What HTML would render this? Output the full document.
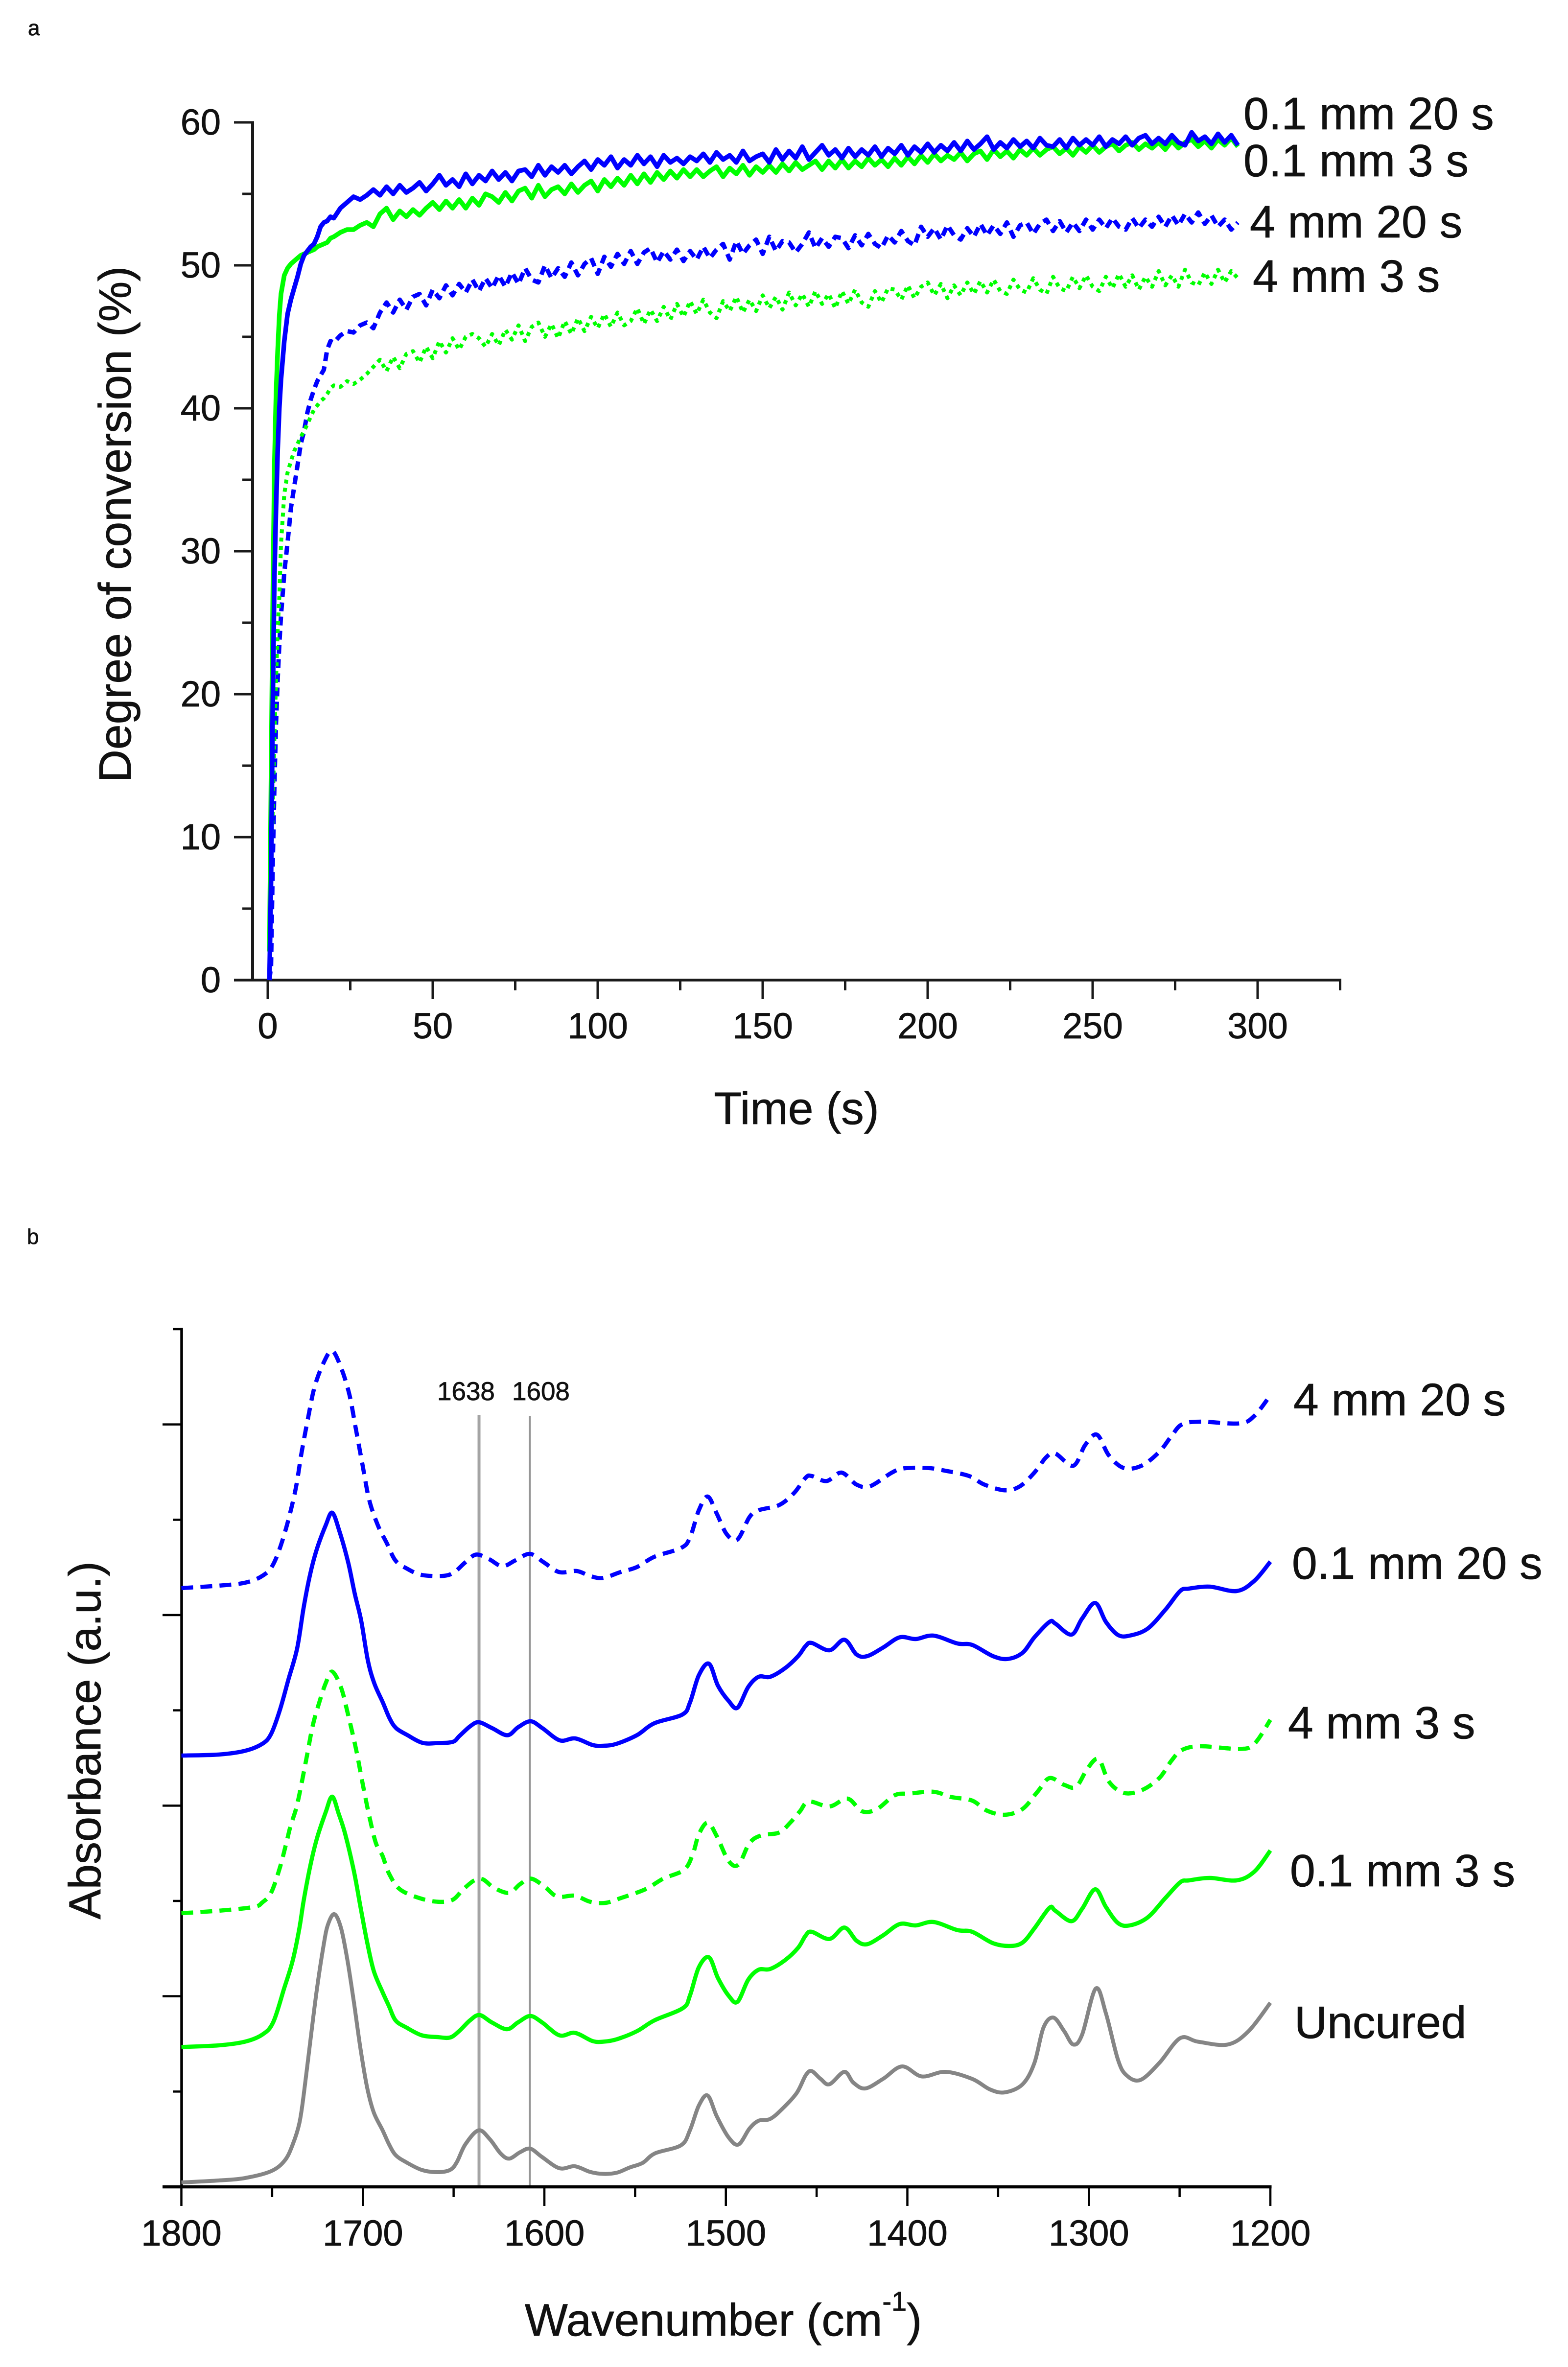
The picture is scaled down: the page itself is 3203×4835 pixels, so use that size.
<!DOCTYPE html>
<html lang="en">
<head>
<meta charset="utf-8">
<title>Degree of conversion and FTIR spectra</title>
<style>
html,body{margin:0;padding:0;background:#fff}
svg{display:block}
text{font-family:"Liberation Sans",Arial,sans-serif;fill:#111;stroke:#111;stroke-width:.8px}
</style>
</head>
<body>
<svg id="fig" xmlns="http://www.w3.org/2000/svg" width="3203" height="4835" viewBox="0 0 3203 4835">
<rect x="0" y="0" width="3203" height="4835" fill="#ffffff"/>

<text x="57" y="72" font-size="44">a</text>
<text x="55" y="2541" font-size="44">b</text>

<g id="chartA"></g>
<g id="chartB"></g>

<text font-size="93" text-anchor="middle" transform="translate(267 1071) rotate(-90)">Degree of conversion (%)</text>
<text x="1627" y="2296" font-size="93" text-anchor="middle">Time (s)</text>

<text x="2540" y="264" font-size="93">0.1 mm 20 s</text>
<text x="2540" y="360" font-size="93">0.1 mm 3 s</text>
<text x="2553" y="485" font-size="93">4 mm 20 s</text>
<text x="2559" y="596" font-size="93">4 mm 3 s</text>

<text font-size="92" text-anchor="middle" transform="translate(205 3555) rotate(-90)">Absorbance (a.u.)</text>
<text x="1072" y="4771" font-size="93">Wavenumber (cm<tspan font-size="56" dy="-51">-1</tspan><tspan dy="51">)</tspan></text>

<text x="893" y="2860" font-size="53">1638</text>
<text x="1046" y="2860" font-size="53">1608</text>

<text x="2642" y="2891" font-size="93">4 mm 20 s</text>
<text x="2639" y="3225" font-size="93">0.1 mm 20 s</text>
<text x="2631" y="3551" font-size="93">4 mm 3 s</text>
<text x="2635" y="3853" font-size="93">0.1 mm 3 s</text>
<text x="2644" y="4163" font-size="93">Uncured</text>
</svg>

<script>
/* ---------- Chart A data ---------- */
const timeValues = [0.5,1,1.5,2,2.5,3,3.5,4,5,6,7,8,9,10,11,12,13,14,15,16,17,18,19,20,22,24,26,28,
30,32,34,36,38,40,42,44,46,48,50,52,54,56,58,60,62,64,66,68,70,72,74,76,78,80,82,84,86,88,
90,92,94,96,98,100,102,104,106,108,110,112,114,116,118,120,122,124,126,128,130,132,134,136,138,140,142,144,146,148,
150,152,154,156,158,160,162,164,166,168,170,172,174,176,178,180,182,184,186,188,190,192,194,196,198,200,202,204,206,208,
210,212,214,216,218,220,222,224,226,228,230,232,234,236,238,240,242,244,246,248,250,252,254,256,258,260,262,264,266,268,
270,272,274,276,278,280,282,284,286,288,290,292,294];

const conv01mm20s = [0,7,19,28,33,37,40,42,44.7,46.6,47.6,48.4,49.2,50.1,50.7,51,51.3,51.5,52,52.7,53,53.1,53.4,53.3,54,54.4,54.8,54.6,
54.9,55.3,54.9,55.5,55.0,55.6,55.1,55.4,55.8,55.2,
55.7,56.3,55.6,56.0,55.5,56.4,55.7,56.3,55.9,56.6,
56.0,56.5,55.9,56.6,56.7,56.2,57.0,56.3,56.9,56.5,
57.0,56.4,56.9,57.3,56.7,57.4,57.0,57.6,56.8,57.4,
57.0,57.7,57.1,57.6,56.9,57.7,57.2,57.5,57.1,57.6,
57.3,57.8,57.2,57.9,57.4,57.7,57.2,58.0,57.3,57.6,
57.8,57.2,58.1,57.4,58.0,57.5,58.3,57.4,57.9,58.4,
57.7,58.1,57.5,58.2,57.6,58.1,57.7,58.3,57.6,58.2,
57.8,58.4,57.7,58.3,57.9,58.5,57.9,58.4,58.0,58.6,
58.0,58.7,58.1,58.5,59.0,58.1,58.6,58.2,58.8,58.3,
58.7,58.2,58.9,58.4,58.3,58.8,58.2,58.9,58.4,58.8,
58.4,59.0,58.3,58.8,58.5,59.0,58.4,58.9,59.1,58.5,
58.9,58.5,59.1,58.6,58.4,59.3,58.7,59.0,58.5,59.2,
58.6,59.1,58.4];

const conv01mm3s = [2,14,26,36,41,44,46.5,48,49.3,49.8,50.1,50.3,50.5,50.7,50.8,50.9,51,51.1,51.3,51.4,51.5,51.6,51.9,52,52.3,52.5,52.5,52.8,
53.0,52.7,53.6,54.0,53.2,53.8,53.4,53.9,53.5,54.0,
54.4,53.9,54.5,54.0,54.6,54.0,54.7,54.2,55.0,54.8,
54.4,55.1,54.5,55.2,55.4,54.7,55.6,54.8,55.3,55.5,
55.0,55.7,55.1,55.6,55.9,55.2,56.0,55.5,56.1,55.6,
56.3,55.7,56.4,55.8,56.5,56.0,56.6,56.1,56.7,56.2,
56.7,56.2,56.6,56.9,56.2,56.8,56.4,57.0,56.3,56.9,
56.5,57.0,56.5,57.1,56.6,57.2,56.7,57.0,57.3,56.7,
57.3,56.8,57.4,56.8,57.3,56.9,57.5,57.0,57.4,56.9,
57.5,57.0,57.6,57.1,57.7,57.2,57.8,57.3,57.7,57.4,
57.9,57.3,57.8,58.0,57.4,58.1,57.6,58.0,57.5,58.1,
57.7,58.2,57.7,58.1,58.3,57.8,58.2,57.7,58.3,57.9,
58.4,57.9,58.3,58.5,58.0,58.4,58.6,58.1,58.5,58.2,
58.6,58.1,58.7,58.2,58.6,58.8,58.3,58.7,58.2,58.8,
58.4,58.9,58.3];

const conv4mm20s = [0,1,8,13.5,18,21,23.5,25.5,28.5,30.6,33,34.5,36,37.5,38.4,39.7,40.6,41.3,41.9,42.3,42.7,44.1,44.7,44.6,45.1,45.4,45.3,45.8,
46.0,45.6,46.7,47.4,46.7,47.6,46.9,47.8,48.0,47.2,
48.3,47.7,48.6,47.9,48.7,48.1,49.0,48.2,49.1,48.4,
49.3,48.5,49.5,48.7,49.8,49.0,48.8,50.0,49.1,49.8,
49.2,50.2,49.3,50.1,50.5,49.4,50.6,49.9,50.8,50.1,
51.0,50.1,50.9,51.2,50.2,51.0,50.4,51.1,50.3,51.0,
50.4,51.3,50.5,51.1,51.5,50.4,51.7,50.8,51.4,51.8,
50.8,52.0,51.0,51.7,51.6,50.9,51.5,52.3,51.2,51.9,
51.3,52.0,51.9,51.2,52.1,51.4,52.2,51.5,51.2,52.1,
51.6,52.4,51.7,51.4,52.7,52.0,52.6,51.8,52.8,52.1,
51.8,52.6,52.0,52.9,52.1,52.8,52.2,53.0,52.0,52.8,
53.0,52.2,52.9,53.2,52.4,53.1,52.3,53.0,52.4,53.2,
52.5,53.2,52.6,53.3,52.7,52.5,53.3,52.6,53.2,52.7,
53.4,52.7,53.5,52.8,53.6,53.0,53.7,52.9,53.5,52.7,
53.2,52.5,53.0];

const conv4mm3s = [1,7,12,17,21,24.5,26.8,30.5,34,35.5,36.3,37,37.5,38,38.4,38.9,39.4,39.9,40.2,40.5,40.7,41,41.4,41.6,41.5,41.9,41.7,42,
42.4,42.9,43.4,42.6,43.6,42.8,43.8,44.0,43.2,44.3,
43.5,44.7,43.9,44.9,44.1,45.0,45.2,44.9,44.3,45.2,
44.4,45.5,44.8,45.8,44.7,45.7,46.0,45.0,45.9,44.9,
46.1,45.2,46.3,45.4,46.4,45.6,46.6,45.7,46.7,45.8,
46.1,47.0,45.9,46.9,46.1,47.1,46.2,47.3,46.4,47.5,
46.6,47.6,46.7,46.3,47.5,46.8,47.8,46.7,47.6,46.8,
47.9,47.0,47.8,46.9,48.1,47.2,48.0,47.1,48.2,47.3,
48.0,47.0,48.2,47.3,48.3,47.4,47.1,48.2,47.4,48.4,
48.3,47.6,48.6,47.7,48.5,48.8,47.9,48.7,47.7,48.6,
47.9,48.8,48.0,48.9,48.1,49.0,48.2,48.0,49.0,48.3,
48.1,49.1,48.3,48.0,49.2,48.4,48.2,49.2,48.4,49.3,
48.5,48.2,49.2,48.4,49.4,48.5,49.3,48.3,49.2,48.5,
49.6,48.6,49.3,48.5,49.7,48.8,48.6,49.5,48.7,49.7,
48.8,49.6,49.1];

const convYMajorTicks = [0,10,20,30,40,50,60];
const convYMinorTicks = [5,15,25,35,45,55];
const timeMajorTicks = [0,50,100,150,200,250,300];
const timeMinorTicks = [25,75,125,175,225,275,325];

/* ---------- Chart B data ---------- */
const wnUncured = [1800,1779.5,1765,1750.6,1743,1738.6,1735,1732.6,1729,1725.3,1721.7,1719.3,1715.7,1712,1708.5,1704.9,1701.3,1697.6,1694,1689.2,1685.6,1682,1676,1667.5,1659,1652,1648.3,1643.5,1636.2,1630,1624.2,1619.4,1613.4,1607.8,1601.3,1591.7,1583.2,1574.8,1567.6,1560,1553,1545.8,1539,1524.7,1519.8,1514.9,1510,1505,1498.5,1493,1487,1482,1475.6,1469,1461,1456,1452.7,1447.8,1442.9,1434.7,1429.8,1423.2,1413.4,1402.9,1392,1379,1364.3,1354.5,1346.3,1336.5,1330,1325,1319.5,1313.6,1308.6,1303.7,1296.2,1290.6,1284,1279.2,1271.6,1261.2,1249.7,1239.9,1223.5,1212,1200];
const absUncured = [9,13,18,32,54,87,130,188,296,405,492,535,557,528,463,376,282,202,152,116,87,65,50,34.5,30,34.5,50,87,115.5,97,68.5,57.6,70.7,78,61,38,42,30.5,26.5,29,39.5,49,68.5,85,115.5,166,186.5,144,101,86.6,119,135,138.7,159,191.5,228,236.4,220.5,209.6,235,213,201,220.5,246,225.5,235,220.5,199,193,209.6,253,325.5,345.7,318,290.7,311,405,354.4,260,227.7,218.3,253,303.7,296.5,290.7,318,376];

const wn01mm3s = [1800,1779.5,1765,1755.4,1749.4,1743.4,1738.6,1735,1732.6,1729,1725.3,1720.5,1716.9,1713.3,1709.7,1704.9,1701.3,1697.6,1694,1689.2,1685.6,1682,1676,1667.5,1659,1652,1647,1641,1635.7,1629,1620.6,1614.5,1607.8,1601.3,1591.7,1583.2,1573.6,1567.6,1560,1549,1539.4,1523.7,1519.8,1514.9,1509.3,1504.4,1498.5,1493.6,1487.7,1482,1475.6,1467.4,1460.2,1456,1452.7,1442.9,1434.7,1428,1422.2,1413.4,1404.2,1395.4,1385.6,1372.5,1364.3,1352.8,1343.7,1336.5,1330,1321.7,1318.5,1309.6,1303.7,1296.5,1290.6,1284,1277.5,1267.7,1257.9,1249.7,1244.8,1233.4,1218.6,1208.8,1200];
const abs01mm3s = [285.6,289,296.5,311,336.3,405,463,528,585,655,712,765,797,762,720,644,571.6,499,441,398,369,340,325.4,309.5,306,305,318,340,351,336,322,336,349,336,309.5,314.6,298,296.5,301.6,318,340,365,390.6,448.5,468.8,426.8,390.6,378,423,443.4,445,463,488.3,513.6,521,506.4,529.6,502.8,495.6,513.6,536.8,534,541,524.5,521,497.7,492,499,528,570,564,542.6,568,607.8,571.6,539,534,550,589.7,622,626,631,626,644,687];

const wn4mm3s = [1800,1779.5,1760.3,1755.4,1750.6,1745.8,1742.2,1739.8,1736.2,1731.4,1727.7,1724.1,1720.5,1716.9,1712.1,1708.5,1703.7,1700,1696.4,1692.8,1689.2,1685.6,1679.6,1668.7,1659,1650.7,1644.7,1638.6,1633.8,1627.8,1619.4,1613.3,1607.3,1600,1592.9,1583.2,1574.8,1566.4,1558,1544.4,1534.5,1523,1518.2,1514.9,1510,1505,1498.5,1493,1487,1480.5,1470.7,1464.2,1459.2,1454.3,1442.9,1433,1424.9,1416.7,1406.9,1398.7,1385.6,1375.8,1364.3,1356.1,1346.3,1336.5,1328.3,1321.7,1313.5,1307,1300.5,1294.6,1289,1280.8,1271,1261.2,1254.6,1248.7,1238.3,1217,1208.8,1200];
const abs4mm3s = [559,564,571.6,581,600.5,651,702,738,781,869,941,988.6,1028.5,1052.4,1020.5,970,893,821,756,702,676.5,640,607.8,589.7,582.4,586,607.8,626,628,611,600.5,618.6,629.5,613.5,593,594.7,582.4,580,589.7,607.8,629.5,647.6,680,720,744,716.3,665.7,658.4,702,718,723.6,745.3,767,787,777,793,767,771.8,800,803.3,807,796.3,789,768.3,760,772,807,835,821,817.3,856,873.5,828,804.7,810,835,870,892.4,900,894.5,905,954];

const wn01mm20s = [1800,1779.5,1765,1755.4,1750.6,1745.8,1741,1736.2,1732.6,1729,1725.3,1720.5,1716.9,1712.9,1708.1,1704.5,1700.9,1697.3,1693.7,1688.9,1685.3,1681.7,1675.7,1667.2,1658.8,1650.4,1646.8,1640.8,1636,1628.8,1620.4,1614.4,1607.6,1601.1,1591.5,1583,1573.4,1567.4,1560.2,1549,1539.4,1524,1519.8,1514.9,1509.3,1504.4,1498.5,1493.6,1487.7,1482,1475.6,1467.4,1460.2,1456,1452.7,1442.9,1434.7,1428,1422.2,1413.4,1404.2,1395.4,1385.6,1372.5,1364.3,1352.8,1344.7,1336.5,1330,1321.7,1318.5,1309.6,1303.7,1296.5,1290.6,1284,1277.5,1267.7,1257.9,1249.7,1244.8,1233.4,1218.6,1208.8,1200];
const abs01mm20s = [881,883,890.6,905,925,973,1036.5,1100,1184,1252,1303.5,1351,1377,1339,1275.6,1212,1156,1076,1028.5,988.6,957,937,923.3,907,906.5,909,921,941,949,937,922.5,939,951,937,912,916,902.5,901,905,922.6,947,964.7,989,1045,1068.5,1024,992.7,978.7,1021,1041.8,1041.8,1059.4,1084,1105,1111,1096,1117.6,1087.4,1084,1101.5,1122.5,1119,1126,1110,1107,1084,1078.3,1091,1122.5,1154,1150.6,1128,1161,1192.7,1154,1127.4,1126,1140,1178.6,1217,1222,1226,1217,1238,1277];

const wn4mm20s = [1800,1779.5,1765,1755.4,1749.4,1743.4,1737.4,1733.8,1730.2,1726.6,1721.8,1717,1712.1,1707.4,1703.8,1700.2,1696.5,1691.7,1686.9,1682.1,1676.1,1667.7,1655.6,1649.6,1643.6,1637.6,1630.4,1623.2,1616,1608,1600.3,1591.8,1582.2,1575,1567.8,1558.1,1549,1539.4,1524.7,1519.8,1514.9,1510,1505,1499.5,1493.6,1487,1482,1470.7,1462.5,1456,1452.7,1444.5,1436.3,1428.1,1420.6,1408.5,1402,1388.8,1379,1366,1357.7,1346.3,1338,1330,1323.4,1318.5,1308.6,1302,1295.5,1289,1280.8,1271,1261.2,1254.6,1248.7,1238.3,1217,1208.8,1200];
const abs4mm20s = [1223,1228,1234,1248,1271.6,1331.4,1419,1499,1570.6,1634,1682,1707.7,1674,1618,1546.7,1475,1403,1351,1315.5,1279.6,1263.6,1250,1248,1255.7,1275.6,1291.5,1282,1267.6,1279.6,1293,1275.6,1255.7,1258,1248,1243.7,1255.7,1266,1287,1305,1326,1382,1410,1375,1333,1322.4,1368,1382,1392.6,1417,1448.7,1452,1441.7,1459,1434.7,1431,1459,1467.6,1468.4,1462.7,1452,1434.7,1422.8,1431,1459,1490.8,1498,1473,1515.4,1536.4,1494.3,1468.4,1473,1501.3,1533,1557.4,1563,1559.5,1575,1617];

const referenceLines = [1636,1608];
const wnMajorTicks = [1800,1700,1600,1500,1400,1300,1200];
const wnMinorTicks = [1750,1650,1550,1450,1350,1250];
const absTickCount = 9;

/* ---------- helpers ---------- */
const NS = 'http://www.w3.org/2000/svg';
function linear(d0,d1,r0,r1){return v=>r0+(v-d0)*(r1-r0)/(d1-d0);}
const xTime = linear(0,325,547,2737.5);
const yConv = linear(0,60,2002,250);
const xWn = linear(1800,1200,370.5,2595);
const yAbs = linear(0,1752,4467,2715);
const chartA = document.getElementById('chartA');
const chartB = document.getElementById('chartB');

function line(parent,name,x1,y1,x2,y2,color,width){
  const el = document.createElementNS(NS,'line');
  
  
  el.setAttribute('x1',x1);el.setAttribute('y1',y1);el.setAttribute('x2',x2);el.setAttribute('y2',y2);
  el.setAttribute('stroke',color);el.setAttribute('stroke-width',width);
  parent.appendChild(el);
}
function label(parent,name,x,y,txt,anchor){
  const el = document.createElementNS(NS,'text');
  
  
  el.setAttribute('x',x);el.setAttribute('y',y);
  el.setAttribute('font-size',74);el.setAttribute('text-anchor',anchor);
  el.textContent = txt;
  parent.appendChild(el);
}
function series(parent,name,d,color,width,dash,cap){
  const el = document.createElementNS(NS,'path');
  
  
  el.setAttribute('d',d);el.setAttribute('fill','none');
  el.setAttribute('stroke',color);el.setAttribute('stroke-width',width);
  el.setAttribute('stroke-linejoin','round');
  if(dash) el.setAttribute('stroke-dasharray',dash);
  if(cap) el.setAttribute('stroke-linecap',cap);
  parent.appendChild(el);
}
function straightPath(xs,ys){
  return xs.map((x,i)=>(i?'L':'M')+xTime(x).toFixed(1)+' '+yConv(ys[i]).toFixed(1)).join('');
}
function smoothPath(xs,ys){
  const p = xs.map((x,i)=>[xWn(x),yAbs(ys[i])]);
  let d = 'M'+p[0][0].toFixed(1)+' '+p[0][1].toFixed(1);
  for(let i=0;i<p.length-1;i++){
    const a=p[Math.max(0,i-1)],b=p[i],c=p[i+1],e=p[Math.min(p.length-1,i+2)];
    const c1x=b[0]+(c[0]-a[0])/6,c1y=b[1]+(c[1]-a[1])/6,c2x=c[0]-(e[0]-b[0])/6,c2y=c[1]-(e[1]-b[1])/6;
    d+='C'+c1x.toFixed(1)+' '+c1y.toFixed(1)+' '+c2x.toFixed(1)+' '+c2y.toFixed(1)+' '+c[0].toFixed(1)+' '+c[1].toFixed(1);
  }
  return d;
}

/* ---------- Chart A ---------- */
const axisA = '#1a1a1a';
line(chartA,'conversion-y-axis',516,yConv(60)-2.5,516,yConv(0),axisA,6);
line(chartA,'conversion-x-axis',478,yConv(0),xTime(325)+2.5,yConv(0),axisA,5.5);
convYMajorTicks.forEach(v=>{
  line(chartA,'conversion-y-tick-major',478,yConv(v),516,yConv(v),axisA,5);
  label(chartA,'conversion-y-tick-label',451,yConv(v)+25,String(v),'end');
});
convYMinorTicks.forEach(v=>{
  line(chartA,'conversion-y-tick-minor',495,yConv(v),516,yConv(v),axisA,5);
});
timeMajorTicks.forEach(v=>{
  line(chartA,'conversion-x-tick-major',xTime(v),yConv(0),xTime(v),2041,axisA,5);
  label(chartA,'conversion-x-tick-label',xTime(v),2121,String(v),'middle');
});
timeMinorTicks.forEach(v=>{
  line(chartA,'conversion-x-tick-minor',xTime(v),yConv(0),xTime(v),2023,axisA,5);
});
series(chartA,'series-4mm-20s',straightPath(timeValues,conv4mm20s),'#0000ff',9,'18 11');
series(chartA,'series-4mm-3s',straightPath(timeValues,conv4mm3s),'#00ff00',8,'8 9');
series(chartA,'series-0.1mm-3s',straightPath(timeValues,conv01mm3s),'#00ff00',9.5);
series(chartA,'series-0.1mm-20s',straightPath(timeValues,conv01mm20s),'#0000ff',9.5);

/* ---------- Chart B ---------- */
referenceLines.forEach((w,i)=>{
  line(chartB,'peak-reference-line',xWn(w),i?2892:2890,xWn(w),yAbs(0),i?'#969696':'#a4a4a4',i?4:6);
});
line(chartB,'spectra-y-axis',371,yAbs(1752)-2.5,371,yAbs(0),'#000000',5.5);
line(chartB,'spectra-x-axis',332,yAbs(0),xWn(1200)+2.5,yAbs(0),'#000000',6.5);
for(let i=0;i<=absTickCount;i++){
  const v = 1752*i/absTickCount;
  const isMajor = i%2===0;
  line(chartB,isMajor?'spectra-y-tick-major':'spectra-y-tick-minor',isMajor?332:353,yAbs(v),371,yAbs(v),'#000000',4.5);
}
wnMajorTicks.forEach(v=>{
  line(chartB,'spectra-x-tick-major',xWn(v),yAbs(0),xWn(v),4506,'#000000',4.5);
  label(chartB,'spectra-x-tick-label',xWn(v),4587,String(v),'middle');
});
wnMinorTicks.forEach(v=>{
  line(chartB,'spectra-x-tick-minor',xWn(v),yAbs(0),xWn(v),4488,'#000000',4.5);
});
series(chartB,'spectrum-uncured',smoothPath(wnUncured,absUncured),'#858585',8);
series(chartB,'spectrum-0.1mm-3s',smoothPath(wn01mm3s,abs01mm3s),'#00ff00',8.5);
series(chartB,'spectrum-4mm-3s',smoothPath(wn4mm3s,abs4mm3s),'#00ff00',8.5,'24 15');
series(chartB,'spectrum-0.1mm-20s',smoothPath(wn01mm20s,abs01mm20s),'#0000ff',8.5);
series(chartB,'spectrum-4mm-20s',smoothPath(wn4mm20s,abs4mm20s),'#0000ff',8.5,'24 15');
</script>
</body>
</html>
